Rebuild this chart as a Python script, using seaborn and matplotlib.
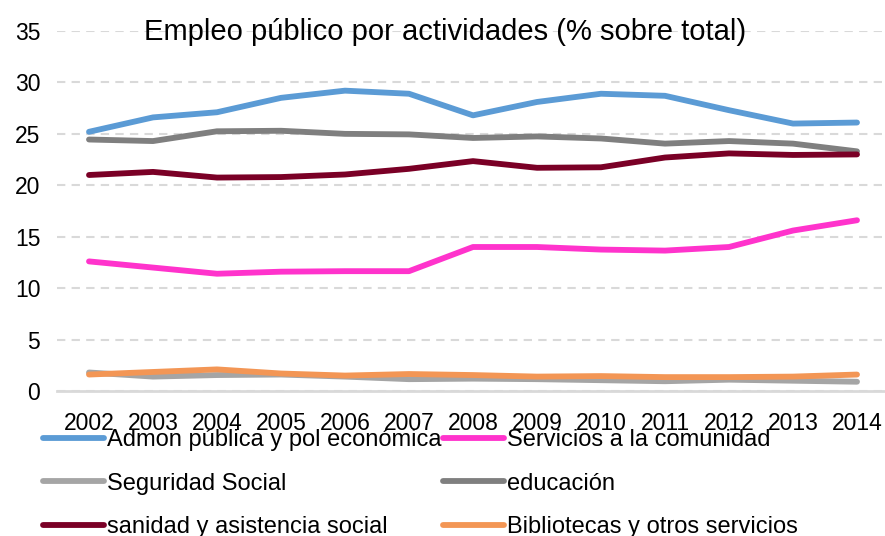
import matplotlib
matplotlib.use("Agg")
import matplotlib.pyplot as plt
from matplotlib.lines import Line2D
import seaborn as sns
import pandas as pd

years = list(range(2002, 2015))

admon = [25.2, 26.6, 27.1, 28.5, 29.2, 28.9, 26.8, 28.1, 28.9, 28.7, 27.3, 26.0, 26.1]
servicios = [12.6, 12.0, 11.4, 11.6, 11.65, 11.65, 14.0, 14.0, 13.75, 13.65, 14.0, 15.6, 16.6]
seguridad = [1.8, 1.4, 1.55, 1.6, 1.4, 1.15, 1.2, 1.15, 1.05, 0.95, 1.1, 1.0, 0.9]
educacion = [24.45, 24.3, 25.25, 25.3, 25.0, 24.95, 24.6, 24.75, 24.55, 24.05, 24.3, 24.05, 23.3]
sanidad = [21.0, 21.3, 20.75, 20.8, 21.05, 21.6, 22.35, 21.7, 21.75, 22.7, 23.1, 22.95, 23.0]
bibliotecas = [1.6, 1.85, 2.1, 1.7, 1.5, 1.65, 1.55, 1.4, 1.45, 1.35, 1.35, 1.4, 1.6]

series_names = [
    "Admon pública y pol económica",
    "Servicios a la comunidad",
    "Seguridad Social",
    "educación",
    "sanidad y asistencia social",
    "Bibliotecas y otros servicios",
]
series_values = [admon, servicios, seguridad, educacion, sanidad, bibliotecas]
series_colors = ["#5B9BD5", "#FF33CC", "#A5A5A5", "#7F7F7F", "#7A0026", "#F39655"]

title_text = "Empleo público por actividades (% sobre total)"
y_ticks = [0, 5, 10, 15, 20, 25, 30, 35]

df = pd.DataFrame(
    [(y, name, v) for name, vals in zip(series_names, series_values) for y, v in zip(years, vals)],
    columns=["year", "serie", "value"],
)

sns.set_theme(style="white")
plt.rcParams["font.family"] = ["Liberation Sans", "DejaVu Sans"]
plt.rcParams["text.color"] = "black"

W, H = 885, 536
fig = plt.figure(figsize=(W / 100, H / 100), dpi=100)
left_px, right_px, top_px, bottom_px = 57, 889, 31, 391
ax = fig.add_axes([left_px / W, 1 - bottom_px / H, (right_px - left_px) / W, (bottom_px - top_px) / H])

sns.lineplot(
    data=df, x="year", y="value", hue="serie", hue_order=series_names,
    palette=dict(zip(series_names, series_colors)), linewidth=4.2,
    ax=ax, legend=False,
)
for line in ax.lines:
    line.set_solid_capstyle("round")
    line.set_solid_joinstyle("round")
    line.set_clip_on(False)

ax.set_xlim(2001.5, 2014.5)
ax.set_ylim(0, 35)
ax.set_yticks(y_ticks)
ax.set_xticks(years)
ax.set_xticklabels([str(y) for y in years])
ax.set_xlabel("")
ax.set_ylabel("")
ax.tick_params(axis="both", length=0, labelsize=16.5, colors="black")
ax.tick_params(axis="y", pad=12)
ax.tick_params(axis="x", pad=15)

for s in ["top", "right", "left"]:
    ax.spines[s].set_visible(False)
ax.spines["bottom"].set_color("#D9D9D9")
ax.spines["bottom"].set_linewidth(2.0)
ax.spines["bottom"].set_zorder(0.5)

ax.yaxis.grid(True, linestyle=(0, (4, 3)), color="#D9D9D9", linewidth=1.5)
ax.xaxis.grid(False)
ax.set_axisbelow(True)

fig.text(0.503, 1 - 40 / H, title_text, ha="center", va="baseline", fontsize=21, color="black")

# legend laid out column-first: left column then right column
order = [0, 2, 4, 1, 3, 5]
leg_handles = [
    Line2D([], [], color=series_colors[i], linewidth=4.2, solid_capstyle="round") for i in order
]
leg_labels = [series_names[i] for i in order]
fig.legend(
    leg_handles, leg_labels, ncol=2, loc="upper left",
    bbox_to_anchor=(43 / W, 1 - 429 / H), frameon=False, fontsize=17,
    handlelength=2.6, handletextpad=0.12, columnspacing=0.05,
    labelspacing=0.92, borderpad=0, borderaxespad=0, labelcolor="black",
)

fig.savefig("out.png", dpi=100)
